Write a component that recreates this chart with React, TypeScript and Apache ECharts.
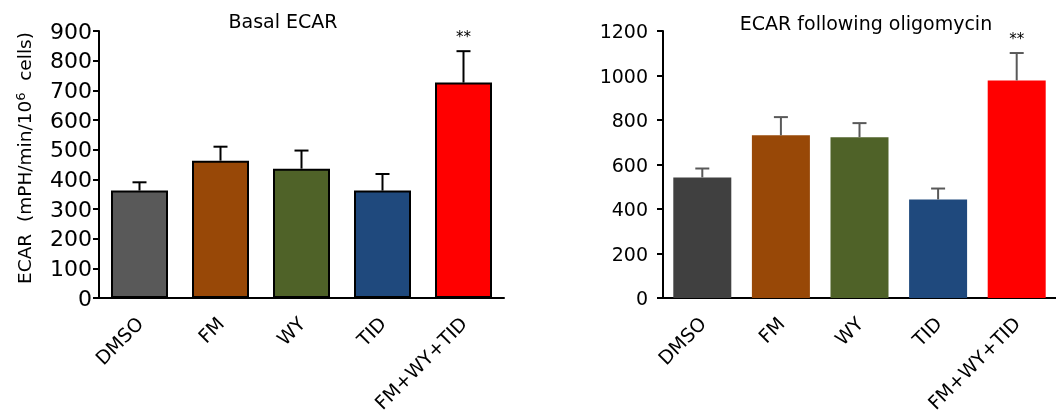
import React, { useEffect, useRef } from "react";
import * as echarts from "echarts";

const categories = ["DMSO", "FM", "WY", "TID", "FM+WY+TID"];
const basalValues = [362, 463, 436, 362, 726];
const basalErrors = [28, 47, 61, 56, 106];
const oligoValues = [542, 731, 723, 443, 978];
const oligoErrors = [40, 82, 63, 49, 123];
const significance = ["", "", "", "", "**"];
const basalTicks = { max: 900, interval: 100 };
const oligoTicks = { max: 1200, interval: 200 };
const basalColors = ["#595959", "#984807", "#4F6228", "#1F497D", "#FF0000"];
const oligoColors = ["#404040", "#984807", "#4F6228", "#1F497D", "#FF0000"];
const basalTitle = "Basal ECAR";
const oligoTitle = "ECAR following oligomycin";

const FONT = "'DejaVu Sans', sans-serif";

function errorSeries(xIdx: number, vals: number[], errs: number[], stroke: string) {
  return {
    type: "custom",
    xAxisIndex: xIdx,
    yAxisIndex: xIdx,
    z: 5,
    encode: { x: 0, y: 1 },
    data: vals.map((v, i) => [i, v, errs[i]]),
    renderItem: (params: any, api: any) => {
      const x = api.value(0);
      const v = api.value(1);
      const e = api.value(2);
      const base = api.coord([x, v]);
      const top = api.coord([x, v + e]);
      const half = 7;
      const children: any[] = [
        { type: "line", shape: { x1: base[0], y1: base[1], x2: top[0], y2: top[1] }, style: { stroke, lineWidth: 2 } },
        { type: "line", shape: { x1: top[0] - half, y1: top[1], x2: top[0] + half, y2: top[1] }, style: { stroke, lineWidth: 2 } },
      ];
      const s = significance[params.dataIndex];
      if (s) {
        children.push({
          type: "text",
          style: { text: s, x: top[0], y: top[1] - 7, align: "center", verticalAlign: "bottom", fontSize: 15, fill: "#000", fontFamily: FONT },
        });
      }
      return { type: "group", children };
    },
  };
}

export default function App() {
  const ref = useRef<HTMLDivElement>(null);
  useEffect(() => {
    if (!ref.current) return;
    const chart = echarts.init(ref.current, undefined, { renderer: "svg" });
    const xAxisCommon = {
      type: "category",
      data: categories,
      axisLine: { lineStyle: { color: "#000", width: 2 } },
      axisTick: { show: false },
      axisLabel: { rotate: 45, fontSize: 19, color: "#000", fontFamily: FONT, margin: 22, interval: 0 },
    };
    const yAxisCommon = {
      type: "value",
      min: 0,
      axisLine: { show: true, lineStyle: { color: "#000", width: 2 } },
      axisTick: { show: true, length: 6, lineStyle: { color: "#000", width: 2 } },
      splitLine: { show: false },
    };
    chart.setOption({
      animation: false,
      title: [
        { text: basalTitle, left: 278, top: 6, textAlign: "center", textStyle: { fontSize: 19, fontWeight: "normal", color: "#000", fontFamily: FONT } },
        { text: oligoTitle, left: 861, top: 8, textAlign: "center", textStyle: { fontSize: 19, fontWeight: "normal", color: "#000", fontFamily: FONT } },
      ],
      grid: [
        { left: 99, top: 31, width: 405, height: 267 },
        { left: 663, top: 31, width: 404, height: 267 },
      ],
      xAxis: [
        { ...xAxisCommon, gridIndex: 0 },
        { ...xAxisCommon, gridIndex: 1 },
      ],
      yAxis: [
        { ...yAxisCommon, gridIndex: 0, max: basalTicks.max, interval: basalTicks.interval,
          axisLabel: { fontSize: 22, color: "#000", fontFamily: FONT, margin: 7, formatter: (v: number) => String(v) } },
        { ...yAxisCommon, gridIndex: 1, max: oligoTicks.max, interval: oligoTicks.interval,
          axisLabel: { fontSize: 19, color: "#000", fontFamily: FONT, margin: 15, formatter: (v: number) => String(v) } },
      ],
      graphic: [
        {
          type: "text",
          x: 24,
          y: 158,
          rotation: Math.PI / 2,
          style: {
            text: "ECAR  (mPH/min/10{sup|6}  cells)",
            fontSize: 18.5,
            fill: "#000",
            fontFamily: FONT,
            align: "center",
            verticalAlign: "middle",
            rich: { sup: { fontSize: 13, verticalAlign: "top", padding: [0, 0, 8, 0], fill: "#000", fontFamily: FONT } },
          },
        },
      ],
      series: [
        {
          type: "bar",
          xAxisIndex: 0,
          yAxisIndex: 0,
          barWidth: 57,
          data: basalValues.map((v, i) => ({ value: v, itemStyle: { color: basalColors[i], borderColor: "#000", borderWidth: 2 } })),
        },
        errorSeries(0, basalValues, basalErrors, "#000"),
        {
          type: "bar",
          xAxisIndex: 1,
          yAxisIndex: 1,
          barWidth: 58,
          data: oligoValues.map((v, i) => ({ value: v, itemStyle: { color: oligoColors[i] } })),
        },
        errorSeries(1, oligoValues, oligoErrors, "#595959"),
      ],
    });
    return () => chart.dispose();
  }, []);
  return <div ref={ref} style={{ position: "fixed", left: 0, top: 0, width: 1056, height: 416 }} />;
}
